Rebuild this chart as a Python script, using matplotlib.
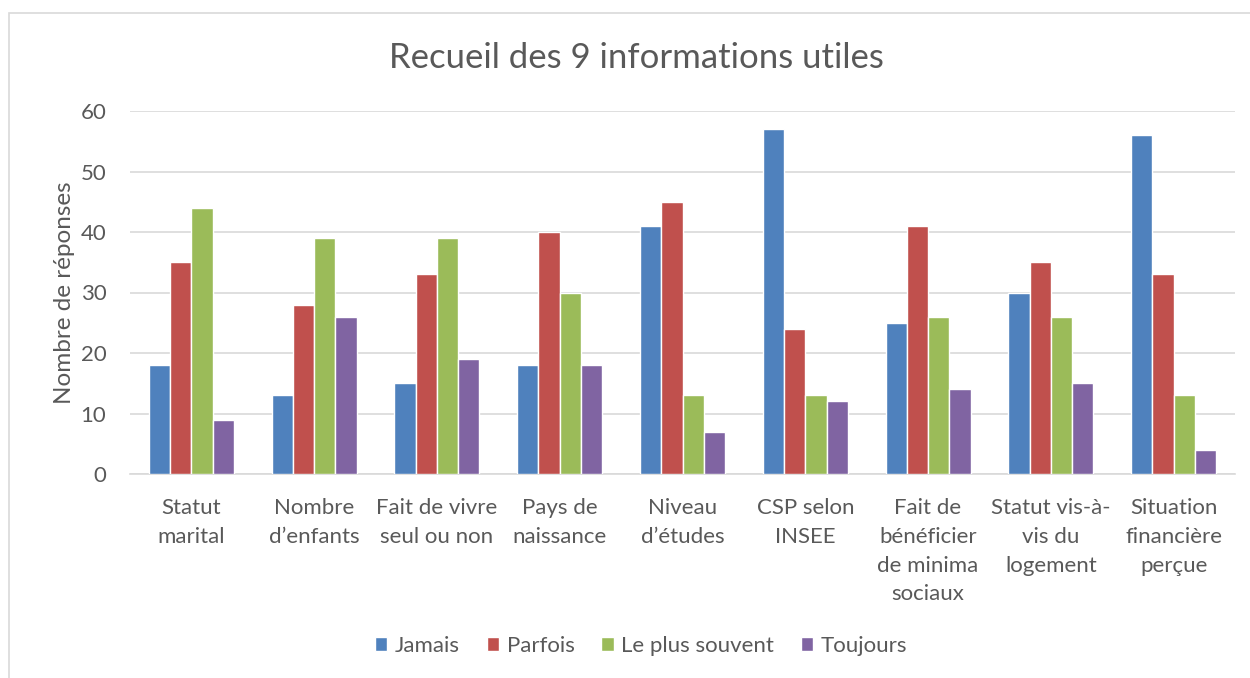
import numpy as np
import matplotlib.pyplot as plt
from matplotlib.patches import Rectangle

plt.rcParams['font.family'] = ['Lato', 'DejaVu Sans']

# data
categories = ["Statut\nmarital", "Nombre\nd\u2019enfants", "Fait de vivre\nseul ou non",
              "Pays de\nnaissance", "Niveau\nd\u2019\u00e9tudes", "CSP selon\nINSEE",
              "Fait de\nb\u00e9n\u00e9ficier\nde minima\nsociaux", "Statut vis-\u00e0-\nvis du\nlogement",
              "Situation\nfinanci\u00e8re\nper\u00e7ue"]
jamais = [18, 13, 15, 18, 41, 57, 25, 30, 56]
parfois = [35, 28, 33, 40, 45, 24, 41, 35, 33]
le_plus_souvent = [44, 39, 39, 30, 13, 13, 26, 26, 13]
toujours = [9, 26, 19, 18, 7, 12, 14, 15, 4]

series = [("Jamais", jamais, "#4F81BD"),
          ("Parfois", parfois, "#C0504D"),
          ("Le plus souvent", le_plus_souvent, "#9BBB59"),
          ("Toujours", toujours, "#8064A2")]

txt = "#595959"
fig = plt.figure(figsize=(12.5, 6.78), dpi=100)
ax = fig.add_axes([130 / 1250, 1 - 474 / 678, 1105 / 1250, 363 / 678])

# chart border
fig.patches.append(Rectangle((9 / 1250, -0.01), 1.5, 1 - 13 / 678 + 0.01,
                             transform=fig.transFigure, fill=False,
                             edgecolor="#D9D9D9", linewidth=1.2))

x = np.arange(len(categories))
w = 0.173
for i, (name, vals, col) in enumerate(series):
    ax.bar(x + (i - 1.5) * w, vals, w, color=col, edgecolor="white",
           linewidth=1.0, label=name, zorder=3)

ax.set_xlim(-0.5, len(categories) - 0.5)
ax.set_ylim(0, 60)
ax.set_yticks(range(0, 61, 10))
ax.set_xticks(x)
ax.set_xticklabels(categories, fontsize=16, color=txt, linespacing=1.56)
ax.tick_params(axis='y', labelsize=16, colors=txt, length=0, pad=17)
ax.tick_params(axis='x', length=0, pad=17)
ax.grid(axis='y', color="#D9D9D9", linewidth=1.2, zorder=0)
for s in ["top", "right", "left"]:
    ax.spines[s].set_visible(False)
ax.spines["bottom"].set_color("#D9D9D9")
ax.spines["bottom"].set_linewidth(1.2)

ax.set_ylabel("Nombre de r\u00e9ponses", fontsize=17.5, color=txt, labelpad=4)
fig.text(0.509, 1 - 58 / 678, "Recueil des 9 informations utiles", fontsize=25,
         color=txt, ha="center", va="center")

leg = fig.legend(loc="center", bbox_to_anchor=(0.513, 1 - 646 / 678), ncol=4,
                 frameon=False, fontsize=16, handlelength=0.55, handleheight=0.55,
                 handletextpad=0.35, columnspacing=1.2)
for t in leg.get_texts():
    t.set_color(txt)

fig.savefig("out.png", dpi=100)
